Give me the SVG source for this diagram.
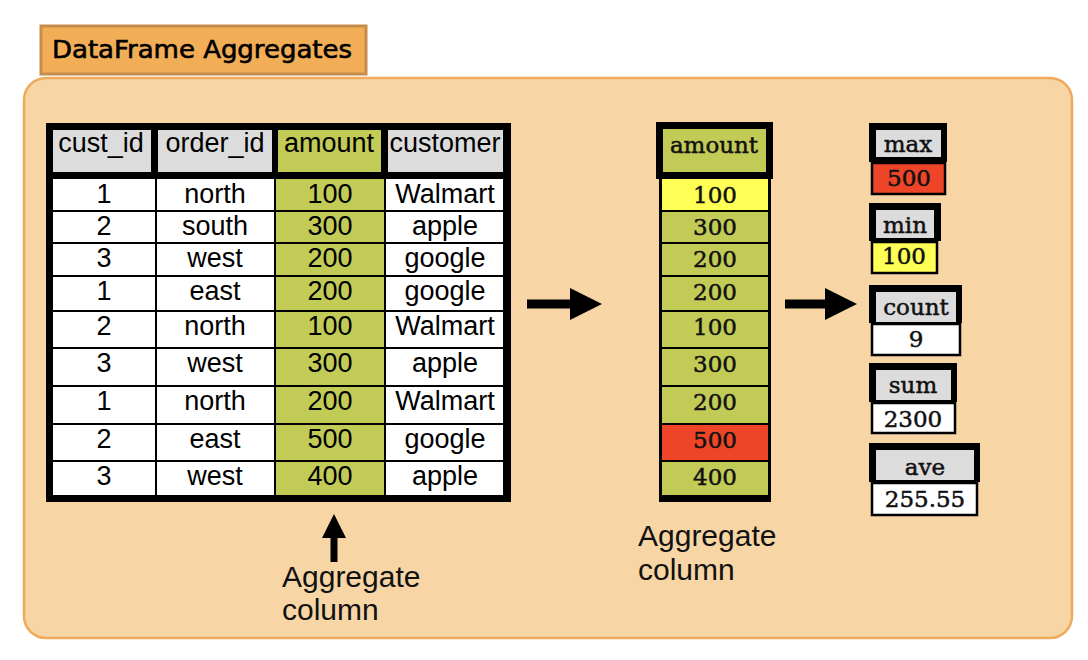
<svg xmlns="http://www.w3.org/2000/svg" width="1088" height="660" viewBox="0 0 1088 660">
<style>
.sans{font-family:"Liberation Sans",Arial,sans-serif;fill:#000}
.tw{font-family:"DejaVu Serif","Liberation Serif",serif;font-size:23px;fill:#111;stroke:#111;stroke-width:0.5}
.cell{font-size:27px}
.lbl{font-size:30px;fill:#111}
.blk{fill:#000}
.hdr{fill:#DCDCDC}
.grn{fill:#C1CB55}
.wht{fill:#fff}
.yel{fill:#FFFF55}
.red{fill:#EE4528}
.val{stroke:#000;stroke-width:2.5}
.rl{stroke:#000;stroke-width:2}
.arr{stroke:#000;stroke-width:9;fill:none}
</style>
<defs>
<marker id="head" viewBox="0 0 32 32" markerWidth="32" markerHeight="32" refX="1" refY="16" orient="auto" markerUnits="userSpaceOnUse">
<path d="M0,0 L32,16 L0,32 Z" fill="#000"/>
</marker>
<marker id="headS" viewBox="0 0 24 24" markerWidth="24" markerHeight="24" refX="1" refY="12" orient="auto" markerUnits="userSpaceOnUse">
<path d="M0,0 L24,12 L0,24 Z" fill="#000"/>
</marker>
</defs>

<g id="panel">
<rect x="24" y="78" width="1048" height="560" rx="22" ry="22" fill="#F7D5A5" stroke="#EFAA5C" stroke-width="2.5"/>
</g>

<g id="title">
<rect x="41" y="26" width="325" height="48" fill="#F2AE57" stroke="#C68D4A" stroke-width="3"/>
<text x="52" y="58" font-family="'Comic Sans MS','DejaVu Sans',sans-serif" font-size="24" textLength="300" lengthAdjust="spacingAndGlyphs" fill="#000" stroke="#000" stroke-width="0.6">DataFrame Aggregates</text>
</g>

<g id="table">
<rect class="blk" x="46" y="123" width="465" height="379"/>
<rect class="hdr" x="53" y="130" width="98" height="42"/>
<rect class="hdr" x="158" y="130" width="114" height="42"/>
<rect class="grn" x="278" y="130" width="103" height="42"/>
<rect class="hdr" x="388" y="130" width="115" height="42"/>
<g class="sans cell" text-anchor="middle">
<text x="101" y="152">cust_id</text>
<text x="215" y="152">order_id</text>
<text x="329" y="152">amount</text>
<text x="445" y="152">customer</text>
</g>
<rect class="wht" x="53" y="179" width="450" height="316"/>
<rect class="grn" x="276" y="179" width="108" height="316"/>
<g class="rl">
<line x1="53" y1="211" x2="503" y2="211"/>
<line x1="53" y1="243" x2="503" y2="243"/>
<line x1="53" y1="276" x2="503" y2="276"/>
<line x1="53" y1="311" x2="503" y2="311"/>
<line x1="53" y1="348" x2="503" y2="348"/>
<line x1="53" y1="386" x2="503" y2="386"/>
<line x1="53" y1="424" x2="503" y2="424"/>
<line x1="53" y1="461" x2="503" y2="461"/>
<line x1="156" y1="179" x2="156" y2="495"/>
<line x1="275" y1="179" x2="275" y2="495"/>
<line x1="385" y1="179" x2="385" y2="495"/>
</g>
<g class="sans cell" text-anchor="middle">
<text x="104" y="203">1</text><text x="215" y="203">north</text><text x="330" y="203">100</text><text x="445" y="203">Walmart</text>
<text x="104" y="235">2</text><text x="215" y="235">south</text><text x="330" y="235">300</text><text x="445" y="235">apple</text>
<text x="104" y="267">3</text><text x="215" y="267">west</text><text x="330" y="267">200</text><text x="445" y="267">google</text>
<text x="104" y="300">1</text><text x="215" y="300">east</text><text x="330" y="300">200</text><text x="445" y="300">google</text>
<text x="104" y="335">2</text><text x="215" y="335">north</text><text x="330" y="335">100</text><text x="445" y="335">Walmart</text>
<text x="104" y="372">3</text><text x="215" y="372">west</text><text x="330" y="372">300</text><text x="445" y="372">apple</text>
<text x="104" y="410">1</text><text x="215" y="410">north</text><text x="330" y="410">200</text><text x="445" y="410">Walmart</text>
<text x="104" y="448">2</text><text x="215" y="448">east</text><text x="330" y="448">500</text><text x="445" y="448">google</text>
<text x="104" y="485">3</text><text x="215" y="485">west</text><text x="330" y="485">400</text><text x="445" y="485">apple</text>
</g>
</g>

<g id="label-left">
<text class="sans lbl" x="282" y="587">Aggregate</text>
<text class="sans lbl" x="282" y="620">column</text>
</g>

<g id="column">
<rect class="blk" x="656" y="122" width="117" height="57"/>
<rect class="grn" x="663" y="129" width="103" height="43"/>
<text class="tw" x="714" y="153" text-anchor="middle">amount</text>
<rect class="blk" x="659" y="179" width="112" height="323"/>
<rect class="grn" x="662" y="179" width="106" height="316"/>
<rect class="yel" x="662" y="179" width="106" height="31"/>
<rect class="red" x="662" y="425" width="106" height="35"/>
<g class="rl">
<line x1="662" y1="211" x2="768" y2="211"/>
<line x1="662" y1="243" x2="768" y2="243"/>
<line x1="662" y1="276" x2="768" y2="276"/>
<line x1="662" y1="311" x2="768" y2="311"/>
<line x1="662" y1="348" x2="768" y2="348"/>
<line x1="662" y1="386" x2="768" y2="386"/>
<line x1="662" y1="424" x2="768" y2="424"/>
<line x1="662" y1="461" x2="768" y2="461"/>
</g>
<g class="tw" text-anchor="middle">
<text x="715" y="203">100</text>
<text x="715" y="235">300</text>
<text x="715" y="267">200</text>
<text x="715" y="300">200</text>
<text x="715" y="335">100</text>
<text x="715" y="372">300</text>
<text x="715" y="410">200</text>
<text x="715" y="448">500</text>
<text x="715" y="485">400</text>
</g>
</g>

<g id="label-mid">
<text class="sans lbl" x="638" y="546">Aggregate</text>
<text class="sans lbl" x="638" y="580">column</text>
</g>

<g id="max">
<rect class="blk" x="869" y="123" width="78" height="39"/>
<rect class="hdr" x="876" y="130" width="65" height="27"/>
<text class="tw" x="908" y="152" text-anchor="middle">max</text>
<rect class="red val" x="872" y="163" width="73" height="31"/>
<text class="tw" x="909" y="186" text-anchor="middle">500</text>
</g>

<g id="min">
<rect class="blk" x="869" y="203" width="72" height="38"/>
<rect class="hdr" x="876" y="210" width="58" height="28"/>
<text class="tw" x="905" y="233" text-anchor="middle">min</text>
<rect class="yel val" x="872" y="242" width="65" height="31"/>
<text class="tw" x="904" y="264" text-anchor="middle">100</text>
</g>

<g id="count">
<rect class="blk" x="869" y="285" width="93" height="38"/>
<rect class="hdr" x="876" y="292" width="80" height="30"/>
<text class="tw" x="916" y="315" text-anchor="middle">count</text>
<rect class="wht val" x="872" y="324" width="88" height="31"/>
<text class="tw" x="916" y="347" text-anchor="middle">9</text>
</g>

<g id="sum">
<rect class="blk" x="869" y="363" width="88" height="39"/>
<rect class="hdr" x="876" y="370" width="75" height="30"/>
<text class="tw" x="913" y="393" text-anchor="middle">sum</text>
<rect class="wht val" x="872" y="403" width="83" height="30"/>
<text class="tw" x="913" y="427" text-anchor="middle">2300</text>
</g>

<g id="ave">
<rect class="blk" x="869" y="443" width="111" height="39"/>
<rect class="hdr" x="876" y="450" width="98" height="30"/>
<text class="tw" x="925" y="475" text-anchor="middle">ave</text>
<rect class="wht val" x="872" y="483" width="105" height="32"/>
<text class="tw" x="925" y="507" text-anchor="middle">255.55</text>
</g>

<g id="connectors">
<line class="arr" x1="527" y1="304" x2="571" y2="304" marker-end="url(#head)"/>
<line class="arr" x1="785" y1="304" x2="826" y2="304" marker-end="url(#head)"/>
<line class="arr" x1="334" y1="562" x2="334" y2="537" style="stroke-width:7" marker-end="url(#headS)"/>
</g>
</svg>
